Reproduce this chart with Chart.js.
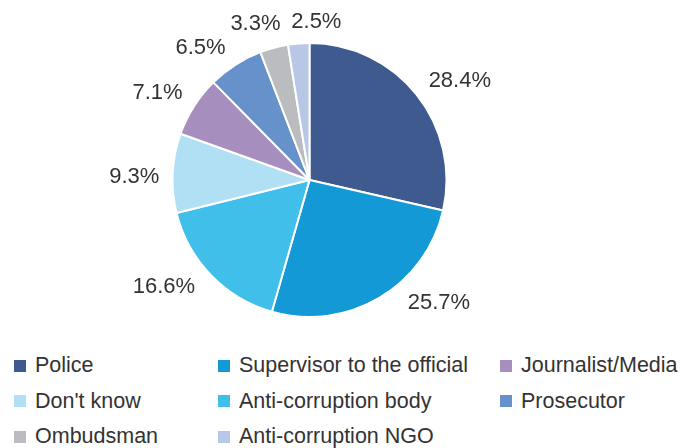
<!DOCTYPE html>
<html>
<head>
<meta charset="utf-8">
<script src="https://cdn.jsdelivr.net/npm/chart.js@4/dist/chart.umd.min.js"></script>
<style>
  html, body { margin: 0; padding: 0; background: #fff; }
  #wrap { position: relative; width: 693px; height: 448px; overflow: hidden; }
  #box { position: absolute; left: 0; top: 0; width: 693px; height: 340px; }
  #legend {
    position: absolute; left: 14px; top: 348px;
    display: grid; grid-template-columns: 204px 282px 180px;
    font-family: "Liberation Sans", Arial, sans-serif; font-size: 21.5px; color: #333;
  }
  .item { display: flex; align-items: center; height: 35.5px; white-space: nowrap; }
  .sw { width: 12px; height: 12px; margin-right: 9px; flex: none; }
</style>
</head>
<body>
<div id="wrap">
  <div id="box"><canvas id="pie"></canvas></div>
  <div id="legend"></div>
</div>
<script>
const categories = ["Police", "Supervisor to the official", "Anti-corruption body", "Don't know",
  "Journalist/Media", "Prosecutor", "Ombudsman", "Anti-corruption NGO"];
const shares = [28.4, 25.7, 16.6, 9.3, 7.1, 6.5, 3.3, 2.5];
const colours = ["#3f5a8f", "#1399d6", "#40bfea", "#b1dff3", "#a68fbe", "#6691ca", "#bbbcbf", "#b9c7e6"];

// legend is read row by row, three columns
const legendOrder = [0, 1, 4, 3, 2, 5, 6, 7];

// small angle tweaks (degrees) so labels sit where the original put them
const labelNudge = [5, -16, 8, -1.5, -2.5, -6.5, -4, 7];

const legend = document.getElementById("legend");
legendOrder.forEach(function (i) {
  const item = document.createElement("div");
  item.className = "item";
  const sw = document.createElement("span");
  sw.className = "sw";
  sw.style.background = colours[i];
  item.appendChild(sw);
  item.appendChild(document.createTextNode(categories[i]));
  legend.appendChild(item);
});

const outsideLabels = {
  id: "outsideLabels",
  afterDraw(chart) {
    const ctx = chart.ctx;
    const meta = chart.getDatasetMeta(0);
    ctx.save();
    ctx.font = '22px "Liberation Sans", Arial, sans-serif';
    ctx.fillStyle = "#333";
    ctx.textAlign = "center";
    ctx.textBaseline = "middle";
    meta.data.forEach(function (arc, i) {
      const p = arc.getProps(["x", "y", "startAngle", "endAngle", "outerRadius"], true);
      const a = (p.startAngle + p.endAngle) / 2 + labelNudge[i] * Math.PI / 180;
      const text = shares[i].toFixed(1) + "%";
      const w = ctx.measureText(text).width;
      const h = 16;
      const d = p.outerRadius + 13 + Math.abs(Math.cos(a)) * w / 2 + Math.abs(Math.sin(a)) * h / 2;
      ctx.fillText(text, p.x + d * Math.cos(a), p.y + d * Math.sin(a) + 1);
    });
    ctx.restore();
  }
};

new Chart(document.getElementById("pie"), {
  type: "pie",
  data: {
    labels: categories,
    datasets: [{
      data: shares,
      backgroundColor: colours,
      borderColor: "#ffffff",
      borderWidth: 2
    }]
  },
  options: {
    responsive: true,
    maintainAspectRatio: false,
    animation: false,
    layout: { padding: { top: 42, bottom: 22, left: 0, right: 74 } },
    plugins: {
      legend: { display: false },
      tooltip: { enabled: false }
    }
  },
  plugins: [outsideLabels]
});
</script>
</body>
</html>
